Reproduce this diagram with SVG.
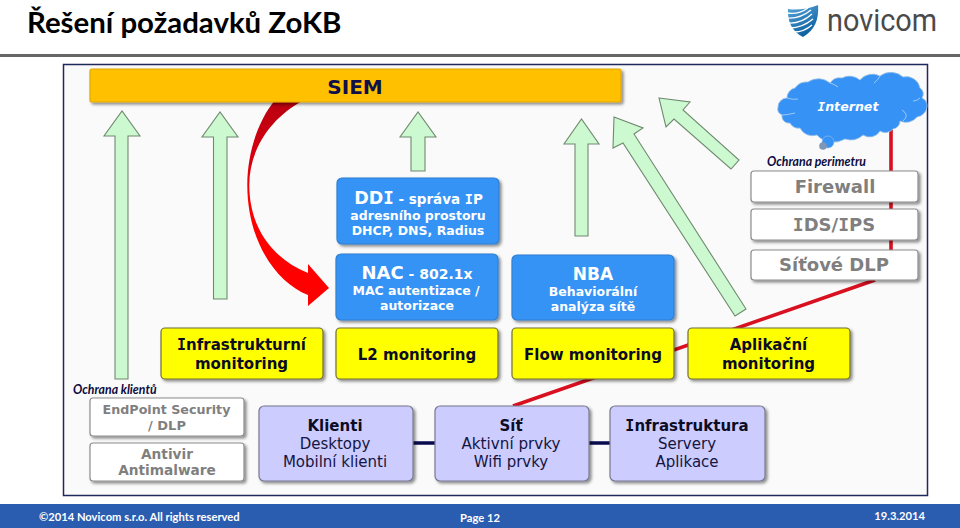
<svg xmlns="http://www.w3.org/2000/svg" width="960" height="528" viewBox="0 0 960 528">
<defs>
<filter id="sh" x="-10%" y="-10%" width="125%" height="130%"><feDropShadow dx="2" dy="2" stdDeviation="1.5" flood-color="#000" flood-opacity="0.45"/></filter>
<linearGradient id="redg" x1="0" y1="0" x2="0" y2="1"><stop offset="0" stop-color="#b80010"/><stop offset="0.3" stop-color="#d80010"/><stop offset="0.5" stop-color="#ff0000"/><stop offset="1" stop-color="#ff0000"/></linearGradient>
<linearGradient id="shield" x1="0" y1="0" x2="0.5" y2="1"><stop offset="0" stop-color="#5aa6dc"/><stop offset="1" stop-color="#0b5f9e"/></linearGradient>
</defs>
<style>
text{font-family:"DejaVu Sans",Verdana,sans-serif;text-anchor:middle}
.box{stroke-width:1.2;filter:url(#sh)}
.blue{fill:#3693f5;stroke:#2f7fd0}
.yel{fill:#ffff00;stroke:#6e6e38}
.lil{fill:#ccccff;stroke:#77778f}
.wht{fill:#fff;stroke:#8c8c8c}
.arr{fill:#ccf9cf;stroke:#6f8a70;stroke-width:1.1}
.b{font-weight:700}
.i{font-family:"DejaVu Sans Mono",monospace;font-weight:700}
.w{fill:#fff}
.k{fill:#0c0c24}
.g{fill:#7f7f7f;font-weight:700}
.n{fill:#15153f}
.cap{font-family:"Lato","Liberation Sans",sans-serif;font-style:italic;font-weight:700;font-size:12.300px;fill:#0c0c40;text-anchor:start}
.foot{font-family:"Lato","Liberation Sans",sans-serif;font-weight:700;font-size:11.200px;fill:#fff}
</style>
<rect width="960" height="528" fill="#fff"/>
<text x="27" y="33" style="font-family:'Lato','Liberation Sans',sans-serif;font-weight:700;text-anchor:start" font-size="29.400" fill="#000">Řešení požadavků ZoKB</text>
<g id="logo">
<path d="M788 9Q803 11 818 5Q820 27 803 37Q787 29 788 9Z" fill="url(#shield)"/>
<path d="M787 13Q798 15 808 8M787 18Q800 19 811 10M788 23Q801 24 812 14M790 28Q802 28 813 19M794 32Q804 32 812 25" stroke="#fff" stroke-width="1.3" fill="none"/>
<text x="882" y="31" font-size="31" fill="#4a4a4a" textLength="110" lengthAdjust="spacingAndGlyphs" style="font-family:Roboto,sans-serif">novicom</text>
</g>
<rect y="54" width="960" height="3" fill="#666"/>
<rect x="63.500" y="64.500" width="864" height="431" fill="#fafafa" stroke="#1f2a5a" stroke-width="1.500"/>
<g id="connectors">
<path d="M891 128V252M875 280L513 406" stroke="#d81020" stroke-width="3.600" fill="none"/>
<path d="M413 443H435M589 443H611" stroke="#0a0a50" stroke-width="3.400" fill="none"/>
</g>
<g id="feeds">
<path class="arr" d="M115 379V136H104L122 111L140 136H128V379Z"/>
<path class="arr" d="M213.500 299V137H202L220 112L238 137H227V299Z"/>
<path class="arr" d="M411 171V137H400L418 112L436 137H425V171Z"/>
<path class="arr" d="M575 236V144H564L581.500 119L599 144H588V236Z"/>
<path class="arr" d="M614 117L643 128L634 134L746 309L735 316L623 143L613 148Z"/>
<path class="arr" d="M659 98L690 102L683 110L739 160L731 169L674 119L666 127Z"/>
<path d="M275 100C257 122 247.300 155 247.300 185C247.300 240 275 282 308 295V306L329 288L308 264V273C275 260 249.300 230 249.300 185C249.300 150 270 118 304 100Z" fill="url(#redg)"/>
</g>
<g id="siem"><rect class="box" x="90" y="69" width="531" height="33" rx="2" fill="#ffc000" stroke="#e0a800"/><text x="355" y="93.500" font-size="20" class="b" fill="#10104a">SIEM</text></g>
<g id="internet">
<path d="M778 107A9 9 0 0 1 787 98A10 10 0 0 1 795 88A14 14 0 0 1 808 82A18 18 0 0 1 830 83A12 12 0 0 1 842 78A16 16 0 0 1 860 80A16 16 0 0 1 880 76A18 18 0 0 1 903 77A14 14 0 0 1 920 88A7 7 0 0 1 922 98A9 9 0 0 1 927 107A12 12 0 0 1 917 117A14 14 0 0 1 900 121A8 8 0 0 1 893 129A10 10 0 0 1 880 131A12 12 0 0 1 863 135A18 18 0 0 1 845 139A22 22 0 0 1 817 135A14 14 0 0 1 800 128A9 9 0 0 1 790 123A7 7 0 0 1 782 115A7 7 0 0 1 778 107Z" fill="#3693f5" stroke="#9cc0e4" stroke-width="0.800"/>
<path d="M787 98Q793 100 798 99M782 115Q787 115 795 113M830 83Q834 84 838 87M880 76Q878 80 874 83M903 121Q910 115 902 110M920 98Q917 101 913 101" stroke="#b8d4f0" stroke-width="0.800" fill="none"/>
<circle cx="828" cy="142" r="6" fill="#3693f5" stroke="#9cc0e4" stroke-width="0.600"/><circle cx="823" cy="146" r="3.800" fill="#7f96b4"/>
<text x="848" y="111" font-size="12.600" class="b w" font-style="italic"><tspan class="i">I</tspan>nternet</text>
</g>
<text class="cap" x="767" y="166">Ochrana perimetru</text>
<g id="firewall"><rect class="box wht" x="751" y="171" width="167" height="31" rx="3"/><text x="835" y="193" font-size="18" class="g">Firewall</text></g>
<g id="idsips"><rect class="box wht" x="751" y="209" width="167" height="31" rx="3"/><text x="834" y="231" font-size="18" class="g"><tspan class="i">I</tspan>DS/<tspan class="i">I</tspan>PS</text></g>
<g id="dlp"><rect class="box wht" x="751" y="250" width="167" height="30" rx="3"/><text x="834" y="271" font-size="18" class="g">Síťové DLP</text></g>
<g id="ddi"><rect class="box blue" x="337" y="178" width="162" height="66" rx="5"/><text x="418.500" y="203.500" class="b w" font-size="13.500"><tspan font-size="17.500">DD<tspan class="i">I</tspan></tspan> - správa <tspan class="i">I</tspan>P</text><text x="418" y="220" class="b w" font-size="12.500">adresního prostoru</text><text x="418" y="235" class="b w" font-size="12.500">DHCP, DNS, Radius</text></g>
<g id="nac"><rect class="box blue" x="336" y="254" width="162" height="66" rx="5"/><text x="417" y="279" class="b w" font-size="14"><tspan font-size="18">NAC</tspan> - 802.1x</text><text x="416" y="295" class="b w" font-size="12.500">MAC autentizace /</text><text x="417" y="310" class="b w" font-size="12.500">autorizace</text></g>
<g id="nba"><rect class="box blue" x="512" y="255" width="162" height="65" rx="5"/><text x="593" y="279.500" class="b w" font-size="17">NBA</text><text x="593" y="296" class="b w" font-size="12.500">Behaviorální</text><text x="593" y="311" class="b w" font-size="12.500">analýza sítě</text></g>
<g id="mon-infra"><rect class="box yel" x="161" y="328" width="162" height="51" rx="4"/><text x="241.500" y="350" class="b k" font-size="15"><tspan class="i">I</tspan>nfrastrukturní</text><text x="241.500" y="369" class="b k" font-size="15">monitoring</text></g>
<g id="mon-l2"><rect class="box yel" x="336" y="328" width="162" height="51" rx="4"/><text x="417" y="360" class="b k" font-size="15">L2 monitoring</text></g>
<g id="mon-flow"><rect class="box yel" x="512" y="328" width="162" height="51" rx="4"/><text x="593" y="360" class="b k" font-size="15">Flow monitoring</text></g>
<g id="mon-app"><rect class="box yel" x="688" y="328" width="162" height="51" rx="4"/><text x="768.500" y="350" class="b k" font-size="15">Aplikační</text><text x="768.500" y="369" class="b k" font-size="15">monitoring</text></g>
<text class="cap" x="73" y="394">Ochrana klientů</text>
<g id="endpoint"><rect class="box wht" x="90" y="398" width="154" height="38" rx="3"/><text x="166.500" y="414" class="g" font-size="12.700">EndPoint Security</text><text x="167" y="429.500" class="g" font-size="13">/ DLP</text></g>
<g id="antivir"><rect class="box wht" x="90" y="443" width="154" height="38" rx="3"/><text x="167" y="459" class="g" font-size="13.700">Antivir</text><text x="167" y="475" class="g" font-size="13.700">Antimalware</text></g>
<g id="klienti"><rect class="box lil" x="259" y="406" width="154" height="75" rx="5"/><text x="335" y="431" class="b k" font-size="15">Klienti</text><text x="335" y="449" class="n" font-size="15">Desktopy</text><text x="335" y="467" class="n" font-size="15">Mobilní klienti</text></g>
<g id="sit"><rect class="box lil" x="435" y="406" width="154" height="75" rx="5"/><text x="511" y="431" class="b k" font-size="15">Síť</text><text x="511" y="449" class="n" font-size="15.200">Aktivní prvky</text><text x="511" y="467" class="n" font-size="15">Wifi prvky</text></g>
<g id="infra"><rect class="box lil" x="610" y="406" width="155" height="75" rx="5"/><text x="687" y="431" class="b k" font-size="15"><tspan class="i">I</tspan>nfrastruktura</text><text x="687" y="449" class="n" font-size="15">Servery</text><text x="687" y="467" class="n" font-size="15">Aplikace</text></g>
<g id="footer"><rect y="504" width="960" height="24" fill="#2a5cb0"/>
<text class="foot" x="39" y="521" style="text-anchor:start">©2014 Novicom s.r.o. All rights reserved</text><text class="foot" x="480" y="522">Page 12</text><text class="foot" x="925" y="520" style="text-anchor:end">19.3.2014</text></g>
</svg>
